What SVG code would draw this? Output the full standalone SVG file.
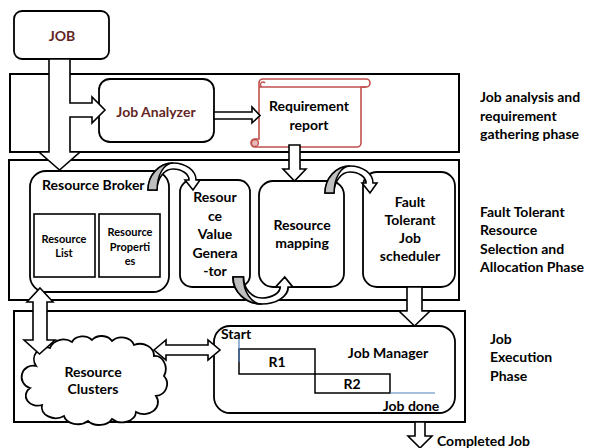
<svg xmlns="http://www.w3.org/2000/svg" width="592" height="448" viewBox="0 0 592 448">
<style>
text{font-family:Lato,"Open Sans","Liberation Sans",sans-serif;font-weight:bold;font-size:14px;fill:#000}
.c{text-anchor:middle}
.red{fill:#632523}
.sm{font-size:11px}
.frame{fill:none;stroke:#000;stroke-width:2}
.box{fill:#fff;stroke:#000;stroke-width:1.8}
.sq{fill:#fff;stroke:#000;stroke-width:1.6}
.barrow{fill:#fff;stroke:#000;stroke-width:1.6;stroke-linejoin:miter}
.gray{fill:#BFBFBF;stroke:#000;stroke-width:1.4}
.blue{stroke:#4F81BD;stroke-width:1.2;fill:none}
</style>
<defs>
<g id="curl">
<path class="barrow" stroke-width="1.4" d="M148,190 A25,27 0 0 1 173,163 A23,17 0 0 1 196,180 L200,180 L193,190 L185,180 L189,180 A16,11 0 0 0 173,169 A16,21 0 0 0 157,190 Z"/>
<path class="gray" d="M148,190 A25,27 0 0 1 173,163 A16,27 0 0 0 157,190 Z"/>
</g>
</defs>

<g id="frames">
<rect class="frame" x="10" y="74" width="449" height="78"/>
<rect class="frame" x="9" y="160" width="450" height="140"/>
<rect class="frame" x="14" y="311" width="451" height="111"/>
</g>

<g id="job">
<rect class="box" x="14" y="11" width="95" height="48" rx="8"/>
<text class="c red" x="62" y="41">JOB</text>
</g>

<g id="job-analyzer">
<rect class="box" x="99" y="79" width="115" height="63" rx="11"/>
<text class="c red" x="156" y="117">Job Analyzer</text>
</g>

<g id="requirement-report">
<path fill="#fff" stroke="#C0504D" stroke-width="1.6" d="M259,83 A4,4 0 0 1 263,79 L366,79 A4,4 0 0 1 366,87 L361,87 L361,143 A4,4 0 0 1 357,147 L255,147 A4,4 0 0 1 255,139 L259,139 Z"/>
<path fill="none" stroke="#C0504D" stroke-width="1.3" d="M263,87 A2.5,2.5 0 1 1 265,83 M259,87 L366,87"/>
<circle cx="255" cy="143" r="3.5" fill="#E6B9B8" stroke="#C0504D" stroke-width="1.3"/>
<text class="c" x="309" y="111">Requirement</text>
<text class="c" x="309" y="130">report</text>
</g>

<g id="resource-broker">
<rect class="box" x="30" y="171" width="139" height="121" rx="16"/>
<text x="42" y="190">Resource Broker</text>
</g>
<g id="resource-list">
<rect class="sq" x="34" y="214" width="61" height="63"/>
<text class="c sm" x="64" y="243">Resource</text>
<text class="c sm" x="64" y="257">List</text>
</g>
<g id="resource-properties">
<rect class="sq" x="99" y="214" width="61" height="63"/>
<text class="c sm" x="130" y="236">Resource</text>
<text class="c sm" x="130" y="251">Properti</text>
<text class="c sm" x="130" y="265">es</text>
</g>

<g id="resource-value-generator">
<rect class="box" x="180" y="180" width="70" height="107" rx="12"/>
<text class="c" x="215" y="202">Resour</text>
<text class="c" x="215" y="220.5">ce</text>
<text class="c" x="215" y="239">Value</text>
<text class="c" x="215" y="257.5">Genera</text>
<text class="c" x="215" y="276">-tor</text>
</g>

<g id="resource-mapping">
<rect class="box" x="259" y="181" width="85" height="106" rx="14"/>
<text class="c" x="302" y="230">Resource</text>
<text class="c" x="302" y="248">mapping</text>
</g>

<g id="fault-tolerant-job-scheduler">
<rect class="box" x="363" y="172" width="92" height="115" rx="14"/>
<text class="c" x="410" y="207">Fault</text>
<text class="c" x="410" y="225">Tolerant</text>
<text class="c" x="410" y="243">Job</text>
<text class="c" x="410" y="261">scheduler</text>
</g>

<g id="resource-clusters">
<path class="box" d="M36,366 A12,12 0 0 1 50,348 A14,12 0 0 1 72,342 A12,10 0 0 1 92,340 A12,10 0 0 1 112,341 A13,11 0 0 1 134,345 A14,12 0 0 1 154,356 A11,13 0 0 1 164,376 A12,12 0 0 1 156,396 A14,12 0 0 1 136,412 A14,11 0 0 1 112,419 A14,10 0 0 1 88,421 A14,10 0 0 1 64,416 A14,11 0 0 1 42,405 A12,10 0 0 1 30,388 A10,10 0 0 1 36,366 Z"/>
<text class="c" x="93" y="377">Resource</text>
<text class="c" x="93" y="394">Clusters</text>
</g>

<g id="job-manager">
<rect class="box" x="214" y="326" width="241" height="87" rx="16"/>
<rect fill="none" stroke="#000" stroke-width="1.5" x="239" y="349" width="76" height="25"/>
<rect fill="none" stroke="#000" stroke-width="1.5" x="315" y="374" width="75" height="19"/>
<line class="blue" x1="239" y1="339" x2="239" y2="362"/>
<line class="blue" x1="390" y1="393" x2="435" y2="393"/>
<text x="221" y="339">Start</text>
<text class="c" x="277" y="367">R1</text>
<text class="c" x="352" y="389">R2</text>
<text class="c" x="388" y="358">Job Manager</text>
<text class="c" x="411" y="411">Job done</text>
</g>

<g id="connectors">
<path class="barrow" d="M49,59 L49,152 L39,152 L59.5,170 L80,152 L70,152 L70,117 L92,117 L92,123 L105,110 L92,97 L92,103 L70,103 L70,59 Z"/>
<path class="barrow" d="M214,112 L252,112 L252,107 L260,115.5 L252,123 L252,119 L214,119 Z"/>
<path class="barrow" d="M289,145 L289,169 L283,169 L294.5,181 L306,169 L300,169 L300,145 Z"/>
<path class="barrow" d="M407,287 L407,311 L399,311 L414.5,326 L430,311 L422,311 L422,287 Z"/>
<path class="barrow" d="M415,422 L415,436 L408,436 L420,448 L432,436 L425,436 L425,422 Z"/>
<path class="barrow" d="M40,288 L53,302 L47,302 L47,340 L55,340 L39.5,354 L24,340 L33,340 L33,302 L27,302 Z"/>
<path class="barrow" d="M154,350 L166,340 L166,345 L208,345 L208,340 L220,350 L208,360 L208,355 L166,355 L166,360 Z"/>
<use href="#curl"/>
<use href="#curl" transform="translate(177,3)"/>
<use href="#curl" transform="matrix(1.15,0,0,-1,62.8,467)"/>
</g>

<g id="phase-labels">
<text x="480" y="102">Job analysis and</text>
<text x="480" y="121">requirement</text>
<text x="480" y="139">gathering phase</text>
<text x="480" y="217">Fault Tolerant</text>
<text x="480" y="235">Resource</text>
<text x="480" y="254">Selection and</text>
<text x="480" y="272">Allocation Phase</text>
<text x="490" y="344">Job</text>
<text x="490" y="362">Execution</text>
<text x="490" y="381">Phase</text>
<text x="437" y="446">Completed Job</text>
</g>
</svg>
